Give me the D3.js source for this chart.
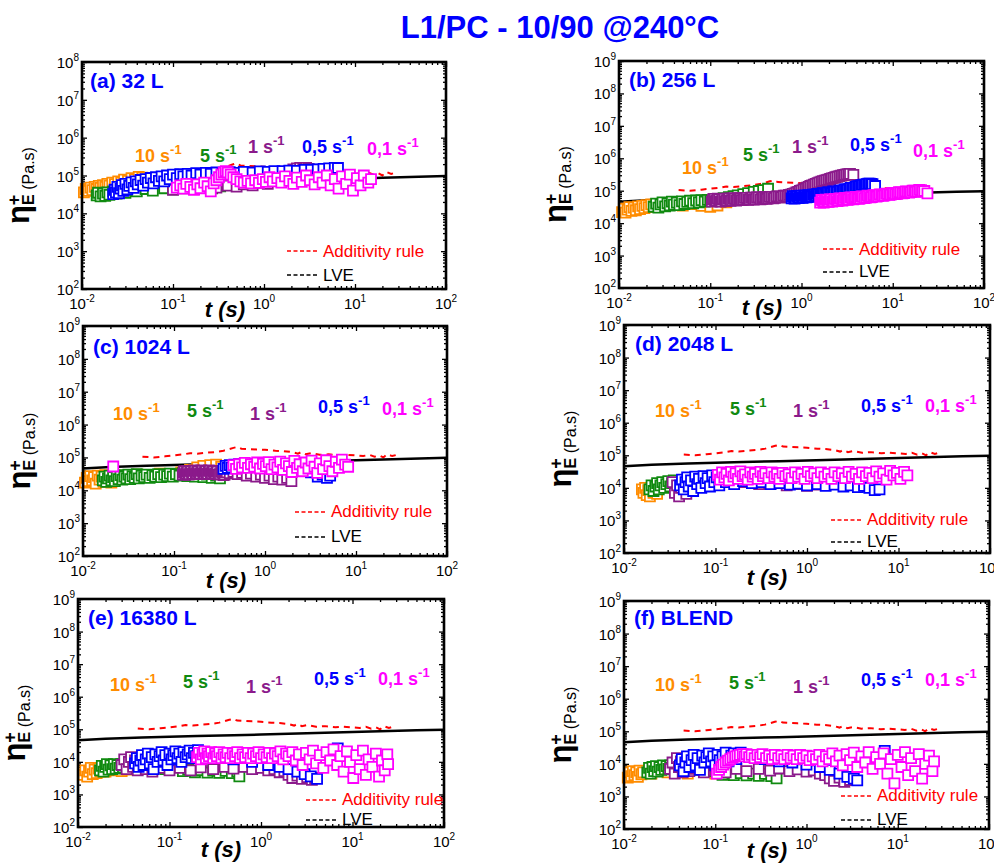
<!DOCTYPE html>
<html><head><meta charset="utf-8">
<script src="https://cdn.jsdelivr.net/npm/d3@7"></script>
<style>
body{margin:0;background:#fff}
svg{display:block}
text{font-family:"Liberation Sans",Arial,sans-serif}
</style>
</head><body>
<svg id="chart" width="994" height="863"></svg>
<script>
// ---------- DATA ----------
const title = "L1/PC - 10/90 @240°C";
const panelNames = ["(a) 32 L","(b) 256 L","(c) 1024 L","(d) 2048 L","(e) 16380 L","(f) BLEND"];
const rateLabels = ["10 s","5 s","1 s","0,5 s","0,1 s"];
const rateSup = "-1";
const rateColors = ["#FF8C00","#108A10","#8B1A8B","#0000FF","#FF00FF"];
const xTickValues = [1e-2,1e-1,1e0,1e1,1e2];
const xTickExp = ["-2","-1","0","1","2"];
const yMaxExp = [8,9,9,9,9,9];
const legendTexts = ["Additivity rule","LVE"];

const lve = [[0.01,4.6e4],[0.02,5.1e4],[0.05,5.6e4],[0.1,5.9e4],[0.2,6.2e4],[0.5,6.6e4],[1,6.9e4],[2,7.3e4],[5,7.8e4],[10,8.2e4],[20,8.7e4],[50,9.3e4],[100,9.7e4]];
const additivity = [[0.045,1.05e5],[0.06,1.0e5],[0.08,1.08e5],[0.1,1.15e5],[0.13,1.25e5],[0.15,1.35e5],[0.18,1.3e5],[0.22,1.38e5],[0.28,1.45e5],[0.35,1.6e5],[0.45,1.95e5],[0.5,2.1e5],[0.55,1.85e5],[0.65,1.8e5],[0.8,1.75e5],[1.0,1.7e5],[1.3,1.6e5],[1.6,1.55e5],[2.0,1.45e5],[2.3,1.3e5],[2.5,1.45e5],[2.8,1.25e5],[3.2,1.35e5],[4,1.2e5],[5,1.25e5],[6.5,1.15e5],[8,1.2e5],[10,1.15e5],[12,1.1e5],[14,1.2e5],[16,1.05e5],[18,1.15e5],[20,1.0e5],[22,1.25e5],[25,1.1e5],[28,1.2e5]];

// Panel (a) 32 L
const a10 = [[0.0105,3.6e4],[0.011,4.4e4],[0.0118,3.9e4],[0.0124,4.8e4],[0.013,4.1e4],[0.0138,5e4],[0.0145,4.4e4],[0.0153,5.3e4],[0.016,4.7e4],[0.017,5.6e4],[0.018,5e4],[0.019,6e4],[0.02,5.4e4],[0.0215,6.5e4],[0.023,5.9e4],[0.025,7e4],[0.027,6.5e4],[0.029,7.8e4],[0.032,7.2e4],[0.035,8.5e4],[0.038,8e4],[0.042,9.2e4],[0.046,8.8e4]];
const a5 = [[0.0145,3e4],[0.015,3.5e4],[0.016,2.8e4],[0.017,3.3e4],[0.018,2.9e4],[0.019,3.6e4],[0.02,3.1e4],[0.022,3.8e4],[0.024,3.3e4],[0.027,4e4],[0.03,3.5e4],[0.034,4.2e4],[0.04,3.8e4],[0.05,4.4e4],[0.06,4e4],[0.08,4.6e4],[0.1,4.3e4],[0.13,4.8e4],[0.17,4.5e4],[0.22,5e4],[0.27,4.6e4],[0.33,5.2e4]];
const a1 = [[0.1,4.2e4],[0.13,4.6e4],[0.17,4.4e4],[0.22,5e4],[0.3,4.8e4],[0.4,5.4e4],[0.5,5.1e4],[0.6,5.8e4],[0.75,5.5e4],[0.9,6.4e4],[1.1,6e4],[1.3,7.5e4],[1.5,9e4],[1.7,1.1e5],[1.9,1.3e5],[2.1,1.45e5],[2.3,1.55e5],[2.5,1.6e5],[2.7,1.55e5],[2.9,1.6e5],[3.1,1.5e5]];
const a05 = [[0.022,3.2e4],[0.0228,4.2e4],[0.0236,3.6e4],[0.0245,5e4],[0.0255,3.4e4],[0.0265,4.5e4],[0.0275,5.6e4],[0.0285,3.9e4],[0.03,6e4],[0.0315,4.3e4],[0.033,5.3e4],[0.035,6.6e4],[0.037,4.7e4],[0.039,7e4],[0.041,5.8e4],[0.044,7.6e4],[0.047,5.4e4],[0.05,8e4],[0.053,6.5e4],[0.057,8.6e4],[0.061,6.2e4],[0.065,9e4],[0.07,7.2e4],[0.075,9.5e4],[0.08,7e4],[0.086,1e5],[0.092,8e4],[0.1,1.05e5],[0.11,8.5e4],[0.12,1.08e5],[0.13,9.5e4],[0.145,1.1e5],[0.16,1e5],[0.18,1.15e5],[0.2,1.05e5],[0.23,1.18e5],[0.26,1.1e5],[0.3,1.2e5],[0.35,1.15e5],[0.42,1.22e5],[0.5,1.18e5],[0.6,1.25e5],[0.75,1.2e5],[0.9,1.28e5],[1.1,1.25e5],[1.3,1.3e5],[1.6,1.3e5],[1.9,1.35e5],[2.3,1.33e5],[2.8,1.4e5],[3.3,1.42e5],[3.9,1.45e5],[4.5,1.5e5],[5.2,1.55e5],[6,1.6e5],[6.5,1.58e5]];
const a01 = [[0.11,4.8e4],[0.12,5.5e4],[0.13,4.5e4],[0.14,6e4],[0.155,5e4],[0.17,4.2e4],[0.185,5.8e4],[0.2,4.6e4],[0.22,6.5e4],[0.24,5.2e4],[0.26,3.8e4],[0.28,6.2e4],[0.3,7.5e4],[0.32,9e4],[0.34,1.05e5],[0.36,1.2e5],[0.38,1.3e5],[0.4,1.2e5],[0.43,1.05e5],[0.46,9e4],[0.5,8e4],[0.55,7e4],[0.6,6.5e4],[0.66,7.2e4],[0.72,6.2e4],[0.8,7.5e4],[0.88,6.4e4],[0.97,8e4],[1.05,6.8e4],[1.15,9e4],[1.25,7e4],[1.4,8.5e4],[1.55,6.5e4],[1.7,9.5e4],[1.9,7.2e4],[2.1,6e4],[2.3,8.8e4],[2.6,6.8e4],[2.9,1e5],[3.2,7.5e4],[3.6,5.8e4],[4,9e4],[4.4,6.5e4],[4.9,1e5],[5.4,5.5e4],[6,8e4],[6.6,4.5e4],[7.2,9.5e4],[8,6e4],[8.8,1.05e5],[9.5,4e4],[10.5,8.5e4],[11.5,5.5e4],[12.5,1e5],[14,6.5e4],[15,8e4]];

// Panel (b) 256 L
const b10 = [[0.0108,2.2e4],[0.0113,2.8e4],[0.0118,2.1e4],[0.0124,2.6e4],[0.013,3.1e4],[0.0137,2.4e4],[0.0145,3e4],[0.0153,2.5e4],[0.0162,3.3e4],[0.017,2.7e4],[0.018,3.4e4],[0.019,2.9e4],[0.02,3.6e4],[0.0212,3.1e4],[0.0225,3.8e4],[0.024,3.3e4],[0.027,3.6e4],[0.032,3.4e4],[0.04,3.8e4],[0.05,3.5e4],[0.065,3.9e4],[0.08,3.4e4],[0.1,3.2e4],[0.12,3.5e4],[0.15,4.4e4],[0.19,5.5e4],[0.24,6.8e4],[0.3,8e4]];
const b5 = [[0.024,3.2e4],[0.0255,4e4],[0.027,3e4],[0.0285,3.8e4],[0.03,4.4e4],[0.032,3.3e4],[0.034,4.1e4],[0.036,3.5e4],[0.038,4.6e4],[0.04,3.7e4],[0.043,4.3e4],[0.046,3.6e4],[0.049,4.7e4],[0.052,3.9e4],[0.056,4.5e4],[0.06,4.9e4],[0.065,4.1e4],[0.07,5e4],[0.075,4.4e4],[0.08,5.1e4],[0.087,4.6e4],[0.094,5.2e4],[0.1,5e4],[0.11,5.4e4],[0.125,5.6e4],[0.14,5.9e4],[0.16,6.3e4],[0.18,6.8e4],[0.2,7.2e4],[0.23,7.8e4],[0.26,8.4e4],[0.3,9.2e4],[0.34,9.8e4],[0.38,1.05e5],[0.43,1.15e5]];
const b1 = [[0.104,4.6e4],[0.107,5.4e4],[0.11,5.6e4],[0.113,4.8e4],[0.117,4.9e4],[0.121,5.7e4],[0.125,5.4e4],[0.129,4.6e4],[0.133,4.7e4],[0.137,5.5e4],[0.142,5.6e4],[0.147,4.8e4],[0.152,5e4],[0.157,5.7e4],[0.162,5.8e4],[0.167,4.9e4],[0.173,5.1e4],[0.179,5.8e4],[0.185,5.7e4],[0.192,5e4],[0.2,5.2e4],[0.207,5.9e4],[0.215,5.9e4],[0.222,5.1e4],[0.23,5.3e4],[0.24,6e4],[0.25,6e4],[0.26,5.2e4],[0.27,5.4e4],[0.28,6.1e4],[0.29,6.1e4],[0.3,5.3e4],[0.31,5.5e4],[0.325,6.2e4],[0.34,6.2e4],[0.355,5.4e4],[0.37,5.6e4],[0.385,6.3e4],[0.4,6.3e4],[0.415,5.6e4],[0.43,5.8e4],[0.45,6.5e4],[0.47,6.5e4],[0.49,5.8e4],[0.51,6e4],[0.535,6.7e4],[0.56,6.7e4],[0.585,6.1e4],[0.61,6.3e4],[0.64,7e4],[0.67,7e4],[0.7,6.8e4],[0.73,7.4e4],[0.765,7.6e4],[0.8,8e4],[0.84,8.3e4],[0.88,8.8e4],[0.92,9.2e4],[0.96,9.8e4],[1.0,1.03e5],[1.05,1.1e5],[1.1,1.17e5],[1.15,1.25e5],[1.2,1.32e5],[1.25,1.4e5],[1.31,1.47e5],[1.37,1.55e5],[1.43,1.62e5],[1.5,1.7e5],[1.57,1.8e5],[1.65,1.9e5],[1.72,1.97e5],[1.8,2.05e5],[1.88,2.12e5],[1.97,2.2e5],[2.06,2.3e5],[2.15,2.4e5],[2.25,2.5e5],[2.35,2.6e5],[2.47,2.7e5],[2.6,2.8e5],[2.72,2.9e5],[2.85,3e5],[2.97,3.1e5],[3.1,3.2e5],[3.25,3.25e5],[3.4,3.3e5],[3.7,3.1e5]];
const b05 = [[0.78,5.8e4],[0.8,6.8e4],[0.82,6.5e4],[0.84,5.7e4],[0.86,5.9e4],[0.88,6.9e4],[0.9,6.7e4],[0.925,5.9e4],[0.95,6.1e4],[0.975,7e4],[1.0,6.9e4],[1.025,6e4],[1.05,6.2e4],[1.075,7.1e4],[1.1,7e4],[1.13,6.2e4],[1.16,6.4e4],[1.19,7.3e4],[1.22,7.2e4],[1.26,6.5e4],[1.3,6.7e4],[1.34,7.6e4],[1.38,7.5e4],[1.42,6.8e4],[1.46,7e4],[1.5,8e4],[1.55,7.9e4],[1.6,7.2e4],[1.65,7.4e4],[1.7,8.4e4],[1.75,8.3e4],[1.81,7.7e4],[1.87,7.9e4],[1.93,8.9e4],[2,8.8e4],[2.07,8.3e4],[2.15,8.5e4],[2.22,9.5e4],[2.3,9.4e4],[2.4,8.9e4],[2.5,9.2e4],[2.6,1.01e5],[2.7,1e5],[2.8,9.8e4],[2.9,1.02e5],[3,1.1e5],[3.1,1.1e5],[3.22,1.08e5],[3.35,1.15e5],[3.47,1.22e5],[3.6,1.22e5],[3.75,1.22e5],[3.9,1.3e5],[4.05,1.37e5],[4.2,1.38e5],[4.35,1.38e5],[4.5,1.45e5],[4.67,1.52e5],[4.85,1.55e5],[5.02,1.55e5],[5.2,1.6e5],[5.4,1.65e5],[5.6,1.65e5],[5.8,1.62e5],[6,1.6e5],[6.4,1.4e5]];
const b01 = [[1.6,4.3e4],[1.65,5.2e4],[1.7,5e4],[1.75,4.3e4],[1.8,4.5e4],[1.85,5.3e4],[1.9,5.2e4],[1.95,4.5e4],[2,4.6e4],[2.05,5.4e4],[2.1,5.3e4],[2.17,4.6e4],[2.25,4.8e4],[2.32,5.6e4],[2.4,5.5e4],[2.47,4.8e4],[2.55,5e4],[2.62,5.8e4],[2.7,5.7e4],[2.8,5e4],[2.9,5.2e4],[3,6e4],[3.1,5.9e4],[3.2,5.2e4],[3.3,5.4e4],[3.42,6.2e4],[3.55,6.1e4],[3.67,5.4e4],[3.8,5.6e4],[3.95,6.4e4],[4.1,6.3e4],[4.25,5.6e4],[4.4,5.8e4],[4.55,6.7e4],[4.7,6.6e4],[4.9,5.9e4],[5.1,6.1e4],[5.3,7e4],[5.5,6.9e4],[5.7,6.2e4],[5.9,6.4e4],[6.15,7.3e4],[6.4,7.2e4],[6.65,6.6e4],[6.9,6.8e4],[7.2,7.7e4],[7.5,7.6e4],[7.8,7e4],[8.1,7.2e4],[8.45,8.1e4],[8.8,8e4],[9.15,7.4e4],[9.5,7.6e4],[9.9,8.5e4],[10.3,8.4e4],[10.75,7.8e4],[11.2,8e4],[11.7,9e4],[12.2,8.9e4],[12.75,8.3e4],[13.3,8.5e4],[13.9,9.5e4],[14.5,9.4e4],[15.1,8.8e4],[15.8,9e4],[16.5,1.01e5],[17.2,1e5],[17.9,9.3e4],[18.7,9.6e4],[19.5,1.06e5],[20.4,1.05e5],[21.3,9.6e4],[22.2,9.8e4],[24,8.3e4]];

// Panel (c) 1024 L
const c10 = [[0.0105,1.7e4],[0.011,2.4e4],[0.0115,1.9e4],[0.012,2.7e4],[0.0126,2e4],[0.0132,2.5e4],[0.0138,1.6e4],[0.0145,2.8e4],[0.0152,2.1e4],[0.016,2.6e4],[0.0168,1.8e4],[0.0176,2.9e4],[0.0185,2.2e4],[0.0195,2.7e4],[0.0205,1.7e4],[0.0215,3e4],[0.0226,2.3e4],[0.024,2.8e4],[0.03,2.6e4],[0.04,3e4],[0.05,2.8e4],[0.07,3.2e4],[0.09,3e4],[0.12,3.5e4],[0.15,4.2e4],[0.18,5e4],[0.21,5.5e4],[0.25,5.8e4],[0.29,6e4],[0.33,5.2e4]];
const c5 = [[0.0165,2e4],[0.0172,2.6e4],[0.018,1.8e4],[0.0188,2.3e4],[0.0196,2.8e4],[0.0205,2e4],[0.0214,2.5e4],[0.0224,1.9e4],[0.0235,2.7e4],[0.0246,2.2e4],[0.0258,2.9e4],[0.027,2.1e4],[0.0284,2.6e4],[0.03,2.3e4],[0.0315,3e4],[0.033,2.2e4],[0.035,2.7e4],[0.037,2.4e4],[0.039,3.1e4],[0.041,2.3e4],[0.044,2.8e4],[0.047,2.5e4],[0.05,3e4],[0.054,2.4e4],[0.058,2.9e4],[0.062,2.6e4],[0.067,3.1e4],[0.072,2.5e4],[0.078,3e4],[0.084,2.7e4],[0.09,3.2e4],[0.097,2.6e4],[0.105,3.1e4],[0.115,2.8e4],[0.125,3.3e4],[0.14,2.7e4],[0.155,3.2e4],[0.17,2.6e4],[0.19,3.1e4],[0.21,2.5e4],[0.23,3e4],[0.26,2.4e4],[0.29,2.8e4],[0.32,2.3e4]];
const c1 = [[0.125,3e4],[0.128,3.6e4],[0.13,3.8e4],[0.133,3e4],[0.136,3.2e4],[0.139,3.8e4],[0.142,3.7e4],[0.145,3e4],[0.148,3.1e4],[0.152,3.9e4],[0.155,3.8e4],[0.158,3.1e4],[0.162,3.2e4],[0.166,4e4],[0.17,3.9e4],[0.174,3.1e4],[0.178,3.3e4],[0.182,3.9e4],[0.186,3.8e4],[0.19,3.1e4],[0.195,3.2e4],[0.2,4e4],[0.205,3.9e4],[0.21,3.2e4],[0.215,3.3e4],[0.22,3.9e4],[0.225,3.8e4],[0.23,3.1e4],[0.236,3.2e4],[0.242,4e4],[0.248,3.9e4],[0.254,3.2e4],[0.26,3.3e4],[0.266,3.9e4],[0.273,3.8e4],[0.28,3.1e4],[0.287,3.2e4],[0.294,3.8e4],[0.3,3.7e4],[0.31,3e4],[0.32,3.1e4],[0.33,3.7e4],[0.34,3.6e4],[0.35,2.9e4],[0.36,3e4],[0.37,3.6e4],[0.38,3.5e4],[0.41,3.3e4],[0.45,3.6e4],[0.5,3.1e4],[0.56,3.4e4],[0.63,2.8e4],[0.7,3.2e4],[0.8,2.6e4],[0.9,3e4],[1,2.4e4],[1.12,2.8e4],[1.25,2.2e4],[1.4,2.6e4],[1.55,2.1e4],[1.75,2.4e4],[1.95,1.9e4]];
const c05 = [[0.35,4.5e4],[0.37,5.5e4],[0.39,4.8e4],[0.41,5.8e4],[0.43,5e4],[0.46,6e4],[0.49,5.2e4],[0.52,6.2e4],[0.56,5.4e4],[0.6,6.3e4],[0.65,5.5e4],[0.7,6.4e4],[0.76,5.6e4],[0.83,6.5e4],[0.9,5.7e4],[0.98,6.4e4],[1.06,5.5e4],[1.2,5e4],[1.4,5.5e4],[1.7,4.5e4],[2.1,5e4],[2.6,4.2e4],[3.2,3.5e4],[3.8,2.6e4],[4.3,3e4],[4.8,2.4e4],[5.2,2.8e4]];
const c01 = [[0.0215,5.3e4],[0.45,5.8e4],[0.48,4.5e4],[0.52,6.2e4],[0.56,5e4],[0.6,6.8e4],[0.65,4.8e4],[0.7,6.2e4],[0.76,5.2e4],[0.82,7e4],[0.88,4.6e4],[0.95,6.4e4],[1.02,5.4e4],[1.1,7.2e4],[1.18,4.4e4],[1.27,6e4],[1.37,5e4],[1.47,7.5e4],[1.58,4.2e4],[1.7,6.6e4],[1.83,5.4e4],[1.97,3.6e4],[2.1,7.8e4],[2.25,4.8e4],[2.4,6.2e4],[2.6,3.8e4],[2.8,7e4],[3,4.6e4],[3.25,8e4],[3.5,5.2e4],[3.75,3.4e4],[4,6.6e4],[4.35,4.4e4],[4.7,8.2e4],[5.1,5.4e4],[5.5,3.8e4],[6,7.4e4],[6.5,4.8e4],[7,8.6e4],[7.6,6e4],[8.2,5.2e4]];

// Panel (d) 2048 L
const d10 = [[0.0157,9e3],[0.0163,7e3],[0.017,1e4],[0.0177,6e3],[0.0184,8.5e3],[0.0192,5.5e3],[0.02,9.5e3],[0.021,7e3],[0.022,1.05e4],[0.023,6.5e3],[0.03,1.1e4],[0.05,1.3e4],[0.08,1.5e4],[0.12,1.8e4],[0.18,2.2e4],[0.24,2.6e4],[0.28,2.8e4],[0.3,2.4e4]];
const d5 = [[0.019,9e3],[0.02,1.2e4],[0.021,8e3],[0.022,1.1e4],[0.023,1.4e4],[0.024,9e3],[0.025,1.2e4],[0.0262,1.5e4],[0.0275,1e4],[0.029,1.3e4],[0.0305,1.6e4],[0.032,1.1e4],[0.0335,1.4e4],[0.035,1.7e4],[0.04,1.3e4],[0.06,1.5e4],[0.1,1.7e4],[0.15,1.9e4],[0.2,2e4]];
const d1 = [[0.034,1.5e4],[0.036,7e3],[0.038,1.2e4],[0.04,5.5e3],[0.042,1e4],[0.045,1.7e4],[0.048,6.5e3],[0.05,1.1e4],[0.07,1.3e4],[0.1,1.4e4],[0.2,1.5e4],[0.3,1.3e4],[0.45,1.4e4],[0.6,1.2e4],[0.8,1.3e4],[1,1.15e4],[1.2,1.25e4],[1.5,1.3e4]];
const d05 = [[0.041,1.2e4],[0.043,1.8e4],[0.045,9e3],[0.047,1.5e4],[0.049,2.1e4],[0.051,1.1e4],[0.054,1.7e4],[0.057,8e3],[0.06,2.2e4],[0.063,1.3e4],[0.066,1.9e4],[0.07,1e4],[0.074,2.3e4],[0.078,1.4e4],[0.082,2e4],[0.087,1.1e4],[0.092,2.4e4],[0.097,1.5e4],[0.103,2.1e4],[0.11,1.2e4],[0.13,1.5e4],[0.16,1.3e4],[0.2,1.6e4],[0.25,1.4e4],[0.32,1.5e4],[0.4,1.3e4],[0.5,1.4e4],[0.65,1.25e4],[0.8,1.35e4],[1,1.2e4],[1.3,1.3e4],[1.6,1.15e4],[2,1.25e4],[2.5,1.1e4],[3,1.2e4],[3.6,1.05e4],[4.2,1.15e4],[4.8,1e4],[5.5,8.5e3],[6.2,9e3]];
const d01 = [[0.106,2.5e4],[0.112,1.8e4],[0.118,3e4],[0.125,2.1e4],[0.132,2.7e4],[0.14,1.7e4],[0.148,3.1e4],[0.157,2.2e4],[0.166,2.8e4],[0.176,1.9e4],[0.187,3.2e4],[0.198,2.3e4],[0.21,2.6e4],[0.225,1.8e4],[0.24,3e4],[0.255,2.2e4],[0.27,2.7e4],[0.29,1.9e4],[0.31,3.1e4],[0.33,2.3e4],[0.35,2.8e4],[0.38,2e4],[0.41,3e4],[0.44,2.2e4],[0.47,2.7e4],[0.5,1.9e4],[0.54,2.9e4],[0.58,2.3e4],[0.63,2.6e4],[0.68,2e4],[0.74,3e4],[0.8,2.2e4],[0.87,2.7e4],[0.94,1.9e4],[1.02,3.1e4],[1.1,2.3e4],[1.2,2.8e4],[1.3,2e4],[1.42,3e4],[1.55,2.2e4],[1.7,2.7e4],[1.85,1.9e4],[2,3e4],[2.2,2.3e4],[2.4,2.8e4],[2.6,2e4],[2.85,3.1e4],[3.1,2.2e4],[3.4,2.7e4],[3.7,1.9e4],[4,3e4],[4.4,2.3e4],[4.8,2.9e4],[5.2,2e4],[5.7,3.2e4],[6.2,2.2e4],[6.8,2.8e4],[7.4,1.8e4],[8.1,3.3e4],[8.8,2.4e4],[9.6,2.9e4],[10.5,1.9e4],[11.5,3.1e4],[12.5,2.4e4]];

// Panel (e) 16380 L
const e10 = [[0.0115,4e3],[0.012,5.5e3],[0.0126,3.5e3],[0.0132,5e3],[0.0138,6.5e3],[0.0145,4.2e3],[0.0152,5.8e3],[0.016,4.5e3],[0.0168,6.2e3],[0.0176,5e3],[0.0185,5.5e3],[0.02,5e3],[0.025,5.5e3],[0.03,5.2e3],[0.035,5.8e3]];
const e5 = [[0.0174,5.5e3],[0.0182,7.5e3],[0.019,5e3],[0.0198,7e3],[0.0207,8.5e3],[0.0216,5.8e3],[0.0226,7.8e3],[0.0236,6e3],[0.0247,8.5e3],[0.0258,6.2e3],[0.027,8e3],[0.0283,6.5e3],[0.0296,8.5e3],[0.031,6.8e3],[0.0325,8e3],[0.04,7e3],[0.06,6.5e3],[0.09,6e3],[0.14,5.2e3],[0.16,5.8e3],[0.19,4.8e3],[0.22,5.6e3],[0.26,4.7e3],[0.3,5.4e3],[0.35,4.6e3],[0.41,5.3e3],[0.48,4.5e3],[0.55,5e3],[0.58,3.6e3]];
const e1 = [[0.03,8e3],[0.032,1.2e4],[0.034,6e3],[0.036,1e4],[0.038,1.4e4],[0.04,7e3],[0.042,1.1e4],[0.045,5.5e3],[0.048,9e3],[0.05,1.3e4],[0.055,6e3],[0.065,5e3],[0.08,6.5e3],[0.1,5.5e3],[0.13,6.5e3],[0.17,5.5e3],[0.22,6.8e3],[0.3,6e3],[0.4,7e3],[0.5,6.2e3],[0.65,7e3],[0.8,6e3],[1,6.5e3],[1.2,5.5e3],[1.4,6e3],[1.6,4.8e3],[1.8,5.2e3],[2,4e3],[2.2,3.2e3],[2.5,3.8e3],[2.8,3e3],[3.2,3.4e3],[3.6,2.8e3],[3.9,3.2e3]];
const e05 = [[0.042,9e3],[0.044,1.3e4],[0.046,7e3],[0.048,1.1e4],[0.05,1.6e4],[0.052,8e3],[0.055,1.2e4],[0.058,1.8e4],[0.061,9e3],[0.064,1.4e4],[0.067,6e3],[0.07,1.7e4],[0.074,1e4],[0.078,1.5e4],[0.082,2e4],[0.086,1.1e4],[0.09,1.6e4],[0.095,8e3],[0.1,1.8e4],[0.105,1.2e4],[0.11,1.6e4],[0.116,2.1e4],[0.122,1.3e4],[0.128,1.8e4],[0.135,1e4],[0.142,2e4],[0.15,1.4e4],[0.158,1.7e4],[0.166,2.2e4],[0.175,1.3e4],[0.185,1.9e4],[0.195,1.5e4],[0.205,2.3e4],[0.215,1.6e4],[0.3,1.4e4],[0.5,1.2e4],[0.8,1e4],[1.2,8e3],[1.6,7e3],[2,6e3],[2.5,5e3],[3,4.2e3],[3.5,3.6e3],[4.1,3e3],[6.9,2.6e4]];
const e01 = [[0.2,1.4e4],[0.21,1.9e4],[0.22,1.2e4],[0.23,1.7e4],[0.24,2.1e4],[0.25,1.3e4],[0.26,1.8e4],[0.27,1.5e4],[0.285,2e4],[0.3,1.3e4],[0.315,1.8e4],[0.33,1.5e4],[0.35,2e4],[0.37,1.3e4],[0.39,1.7e4],[0.41,1.4e4],[0.43,1.9e4],[0.46,1.3e4],[0.49,1.8e4],[0.52,1.5e4],[0.55,2e4],[0.59,1.3e4],[0.63,1.7e4],[0.67,1.4e4],[0.72,1.9e4],[0.77,1.3e4],[0.82,1.8e4],[0.88,1.5e4],[0.94,2e4],[1,1.3e4],[1.07,1.7e4],[1.15,1.4e4],[1.23,1.9e4],[1.32,1.3e4],[1.42,1.8e4],[1.52,1.5e4],[1.63,2.1e4],[1.75,1.2e4],[1.88,1.8e4],[2,1.5e4],[2.2,2e4],[2.4,1.1e4],[2.6,1.7e4],[2.85,8e3],[3.1,1.9e4],[3.4,1.2e4],[3.7,2.2e4],[4,9e3],[4.4,1.6e4],[4.8,6.5e3],[5.2,2e4],[5.7,1.1e4],[6.2,2.4e4],[6.8,8e3],[7.4,1.5e4],[8,5e3],[8.7,2.1e4],[9.4,1e4],[10.2,3.2e3],[11,1.6e4],[12,6e3],[13,2.2e4],[14,4e3],[15,1.2e4],[16.5,7e3],[18,1.8e4],[19.5,3.5e3],[21,1.1e4],[22.5,5.5e3],[24,1.7e4],[24.5,8.5e3]];

// Panel (f) BLEND
const f10 = [[0.011,3.8e3],[0.0115,5.5e3],[0.012,4.2e3],[0.0125,6e3],[0.013,4.5e3],[0.0136,5.5e3],[0.0142,4e3],[0.0148,6.2e3],[0.0155,4.8e3],[0.0162,5.5e3],[0.02,5e3],[0.03,5.5e3],[0.05,5e3],[0.1,5e3],[0.15,4.8e3]];
const f5 = [[0.018,5.5e3],[0.0188,7.5e3],[0.0196,5e3],[0.0205,8e3],[0.0214,6e3],[0.0224,8.5e3],[0.0234,5.8e3],[0.0245,8e3],[0.0256,6.5e3],[0.0268,9e3],[0.028,6.8e3],[0.0293,8.5e3],[0.0306,7e3],[0.032,9e3],[0.0335,7.5e3],[0.04,7e3],[0.06,6.5e3],[0.08,6e3],[0.104,5.5e3],[0.12,4.6e3],[0.14,5.4e3],[0.16,4.5e3],[0.19,5.2e3],[0.22,4.4e3],[0.26,5e3],[0.3,4.3e3],[0.35,4.9e3],[0.41,4.2e3],[0.47,3.6e3]];
const f1 = [[0.032,7e3],[0.034,1.1e4],[0.036,5e3],[0.038,1.5e4],[0.04,8e3],[0.042,1.2e4],[0.044,5.5e3],[0.046,9e3],[0.049,1.3e4],[0.052,6e3],[0.06,7e3],[0.075,5.5e3],[0.1,6.5e3],[0.13,5.5e3],[0.17,7e3],[0.22,6e3],[0.3,7e3],[0.4,6.2e3],[0.5,7.2e3],[0.65,6e3],[0.8,6.8e3],[1,5.8e3],[1.2,6.3e3],[1.4,5e3],[1.6,4.5e3],[1.8,3.6e3],[2,3e3],[2.3,3.8e3],[2.6,2.8e3],[3,3.2e3]];
const f05 = [[0.041,9e3],[0.043,1.4e4],[0.045,6e3],[0.047,1.1e4],[0.049,1.7e4],[0.052,8e3],[0.055,1.3e4],[0.058,1.9e4],[0.061,9e3],[0.064,1.5e4],[0.068,6.5e3],[0.072,1.8e4],[0.076,1.1e4],[0.08,1.6e4],[0.085,2.1e4],[0.09,1.2e4],[0.095,1.7e4],[0.1,9e3],[0.106,1.9e4],[0.112,1.3e4],[0.12,1.7e4],[0.13,2.2e4],[0.14,1.2e4],[0.15,1.8e4],[0.16,2.1e4],[0.17,1.4e4],[0.18,1.9e4],[0.19,2.2e4],[0.25,1.6e4],[0.35,1.4e4],[0.5,1.2e4],[0.7,1.1e4],[1,9.5e3],[1.4,8e3],[1.8,6.5e3],[2.3,5e3],[2.8,4e3],[3.3,3.5e3],[3.6,3.1e3],[7.2,2.5e4]];
const f01 = [[0.104,5e3],[0.11,6.5e3],[0.116,8e3],[0.122,9.5e3],[0.13,1.1e4],[0.138,1.25e4],[0.146,1.4e4],[0.155,1.55e4],[0.165,1.7e4],[0.175,1.8e4],[0.186,1.9e4],[0.2,2e4],[0.21,1.7e4],[0.22,2e4],[0.235,1.6e4],[0.25,1.9e4],[0.27,1.5e4],[0.29,1.9e4],[0.31,1.6e4],[0.33,2e4],[0.36,1.5e4],[0.39,1.8e4],[0.42,1.4e4],[0.45,1.9e4],[0.49,1.5e4],[0.53,1.8e4],[0.57,1.4e4],[0.62,1.9e4],[0.67,1.5e4],[0.72,1.8e4],[0.78,1.4e4],[0.85,1.9e4],[0.92,1.5e4],[1,1.8e4],[1.08,1.3e4],[1.17,1.7e4],[1.27,1.4e4],[1.38,1.9e4],[1.5,1.2e4],[1.63,1.7e4],[1.77,1.4e4],[1.92,2.1e4],[2.1,1.2e4],[2.3,1.8e4],[2.5,9e3],[2.75,2e4],[3,1.3e4],[3.3,2.2e4],[3.6,8e3],[4,1.7e4],[4.4,1.1e4],[4.8,2.3e4],[5.3,7e3],[5.8,1.6e4],[6.4,1e4],[7,2.1e4],[7.7,5e3],[8.4,1.4e4],[9.2,2.5e3],[10,1.9e4],[11,8e3],[12,2.3e4],[13,4.5e3],[14,1.5e4],[15.5,6e3],[17,2e4],[18.5,3.5e3],[20,1e4],[22,1.8e4],[24,6e3],[25,1.2e4]];

const panelSeries = [
  [a10,a5,a1,a05,a01],
  [b10,b5,b1,b05,b01],
  [c10,c5,c1,c05,c01],
  [d10,d5,d1,d05,d01],
  [e10,e5,e1,e05,e01],
  [f10,f5,f1,f05,f01]
];

// ---------- LAYOUT (pixels) ----------
const layout = [
  {x0:82, x1:446, y0:62,  y1:289, tl:28, name:[8,26],
   lab:[[53,100],[118,100],[166,91],[220,91],[285,93]], leg:[205,189,195,213,219]},
  {x0:619,x1:984, y0:61,  y1:288, tl:27, name:[10,26],
   lab:[[63,113],[124,100],[173,92],[231,90],[294,96]], leg:[204,188,194,211,216]},
  {x0:83, x1:447, y0:326, y1:556, tl:32, name:[10,28],
   lab:[[30,94],[104,91],[167,94],[235,87],[299,89]], leg:[212,186,191,211,216]},
  {x0:624,x1:990, y0:325, y1:553, tl:32, name:[11,26],
   lab:[[31,92],[106,90],[169,92],[237,87],[301,87]], leg:[207,195,200,217,222]},
  {x0:78, x1:444, y0:599, y1:827, tl:30, name:[10,26],
   lab:[[32,92],[105,89],[168,94],[236,86],[300,86]], leg:[228,201,206,221,226]},
  {x0:624,x1:989, y0:601, y1:829, tl:29, name:[10,24],
   lab:[[31,90],[105,88],[169,92],[237,85],[301,85]], leg:[217,195,200,219,224]}
];

// ---------- DRAW ----------
const svg = d3.select("#chart");
svg.append("rect").attr("width",994).attr("height",863).attr("fill","#fff");

svg.append("text").attr("x",560).attr("y",38).attr("text-anchor","middle")
  .attr("font-size",31).attr("font-weight","bold").attr("fill","#0000FF").text(title);

const sq = d3.symbol().type(d3.symbolSquare).size(100);

layout.forEach((L, pi) => {
  const g = svg.append("g");
  const x = d3.scaleLog().domain([1e-2,1e2]).range([L.x0,L.x1]);
  const yTop = Math.pow(10, yMaxExp[pi]);
  const y = d3.scaleLog().domain([1e2,yTop]).range([L.y1,L.y0]);

  const allX = x.ticks().filter(v => v>=1e-2 && v<=1e2);
  const minorX = allX.filter(v => !xTickValues.some(m => Math.abs(Math.log10(v)-Math.log10(m))<1e-9));
  const yMajor = d3.range(2, yMaxExp[pi]+1).map(e => Math.pow(10,e));
  const allY = y.ticks().filter(v => v>=1e2 && v<=yTop);
  const minorY = allY.filter(v => !yMajor.some(m => Math.abs(Math.log10(v)-Math.log10(m))<1e-9));

  const mk = (axis, tr, vals, len) => {
    const a = g.append("g").attr("transform", tr)
      .call(axis.tickValues(vals).tickSize(-len).tickFormat(""));
    a.select(".domain").remove();
    a.selectAll("line").attr("stroke","#000").attr("stroke-width",1.3);
  };
  mk(d3.axisBottom(x), `translate(0,${L.y1})`, xTickValues, 5);
  mk(d3.axisBottom(x), `translate(0,${L.y1})`, minorX, 3);
  mk(d3.axisTop(x), `translate(0,${L.y0})`, xTickValues, 5);
  mk(d3.axisTop(x), `translate(0,${L.y0})`, minorX, 3);
  mk(d3.axisLeft(y), `translate(${L.x0},0)`, yMajor, 5);
  mk(d3.axisLeft(y), `translate(${L.x0},0)`, minorY, 3);
  mk(d3.axisRight(y), `translate(${L.x1},0)`, yMajor, 5);
  mk(d3.axisRight(y), `translate(${L.x1},0)`, minorY, 3);

  xTickValues.forEach((v,i) => {
    const t = g.append("text").attr("x", x(v)).attr("y", L.y1+20).attr("text-anchor","middle");
    t.append("tspan").attr("font-size",15).text("10");
    t.append("tspan").attr("font-size",10).attr("dy",-7).text(xTickExp[i]);
  });
  yMajor.forEach(v => {
    const t = g.append("text").attr("x", L.x0-3).attr("y", y(v)+6).attr("text-anchor","end");
    t.append("tspan").attr("font-size",15).text("10");
    t.append("tspan").attr("font-size",10).attr("dy",-7).text(String(Math.round(Math.log10(v))));
  });

  g.append("text").attr("x", L.x0+143).attr("y", L.y1+L.tl).attr("text-anchor","middle")
    .attr("font-size",22).attr("font-weight","bold").attr("font-style","italic").text("t (s)");
  const yl = g.append("text")
    .attr("transform",`translate(${L.x0-53},${(L.y0+L.y1)/2+10}) rotate(-90)`)
    .attr("text-anchor","middle");
  yl.append("tspan").attr("font-size",31).attr("font-weight","bold").text("η");
  yl.append("tspan").attr("font-size",16).attr("font-weight","bold").attr("dy",5).text("E");
  yl.append("tspan").attr("font-size",18).attr("font-weight","bold").attr("dx",-11).attr("dy",-14).text("+");
  yl.append("tspan").attr("font-size",16).attr("dx",5).attr("dy",14).text("(Pa.s)");

  const line = d3.line().x(d => x(d[0])).y(d => y(d[1]));
  g.append("path").datum(additivity).attr("d",line).attr("fill","none")
    .attr("stroke","#FF0000").attr("stroke-width",2).attr("stroke-dasharray","6,5");
  g.append("path").datum(lve).attr("d",line).attr("fill","none")
    .attr("stroke","#000").attr("stroke-width",2.5);

  panelSeries[pi].forEach((ser, si) => {
    g.append("g").selectAll("path").data(ser).join("path")
      .attr("d", sq)
      .attr("transform", d => `translate(${x(d[0])},${y(d[1])})`)
      .attr("fill","#fff").attr("stroke", rateColors[si]).attr("stroke-width",1.8);
  });

  g.append("rect").attr("x",L.x0).attr("y",L.y0).attr("width",L.x1-L.x0).attr("height",L.y1-L.y0)
    .attr("fill","none").attr("stroke","#000").attr("stroke-width",2.6);

  g.append("text").attr("x",L.x0+L.name[0]).attr("y",L.y0+L.name[1])
    .attr("font-size",21).attr("font-weight","bold").attr("fill","#0000FF").text(panelNames[pi]);

  rateLabels.forEach((r,i) => {
    const t = g.append("text").attr("x",L.x0+L.lab[i][0]).attr("y",L.y0+L.lab[i][1])
      .attr("font-weight","bold").attr("fill",rateColors[i]);
    t.append("tspan").attr("font-size",18).text(r);
    t.append("tspan").attr("font-size",13).attr("dy",-8).text(rateSup);
  });

  const lg = L.leg;
  [[lg[1],lg[2],"#FF0000"],[lg[3],lg[4],"#000"]].forEach((p,k) => {
    g.append("line").attr("x1",L.x0+lg[0]).attr("x2",L.x0+lg[0]+30)
      .attr("y1",L.y0+p[0]).attr("y2",L.y0+p[0])
      .attr("stroke",p[2]).attr("stroke-width",1.5).attr("stroke-dasharray","4,2.5");
    g.append("text").attr("x",L.x0+lg[0]+36).attr("y",L.y0+p[1])
      .attr("font-size",17).attr("fill",p[2]).text(legendTexts[k]);
  });
});
</script>
</body></html>
